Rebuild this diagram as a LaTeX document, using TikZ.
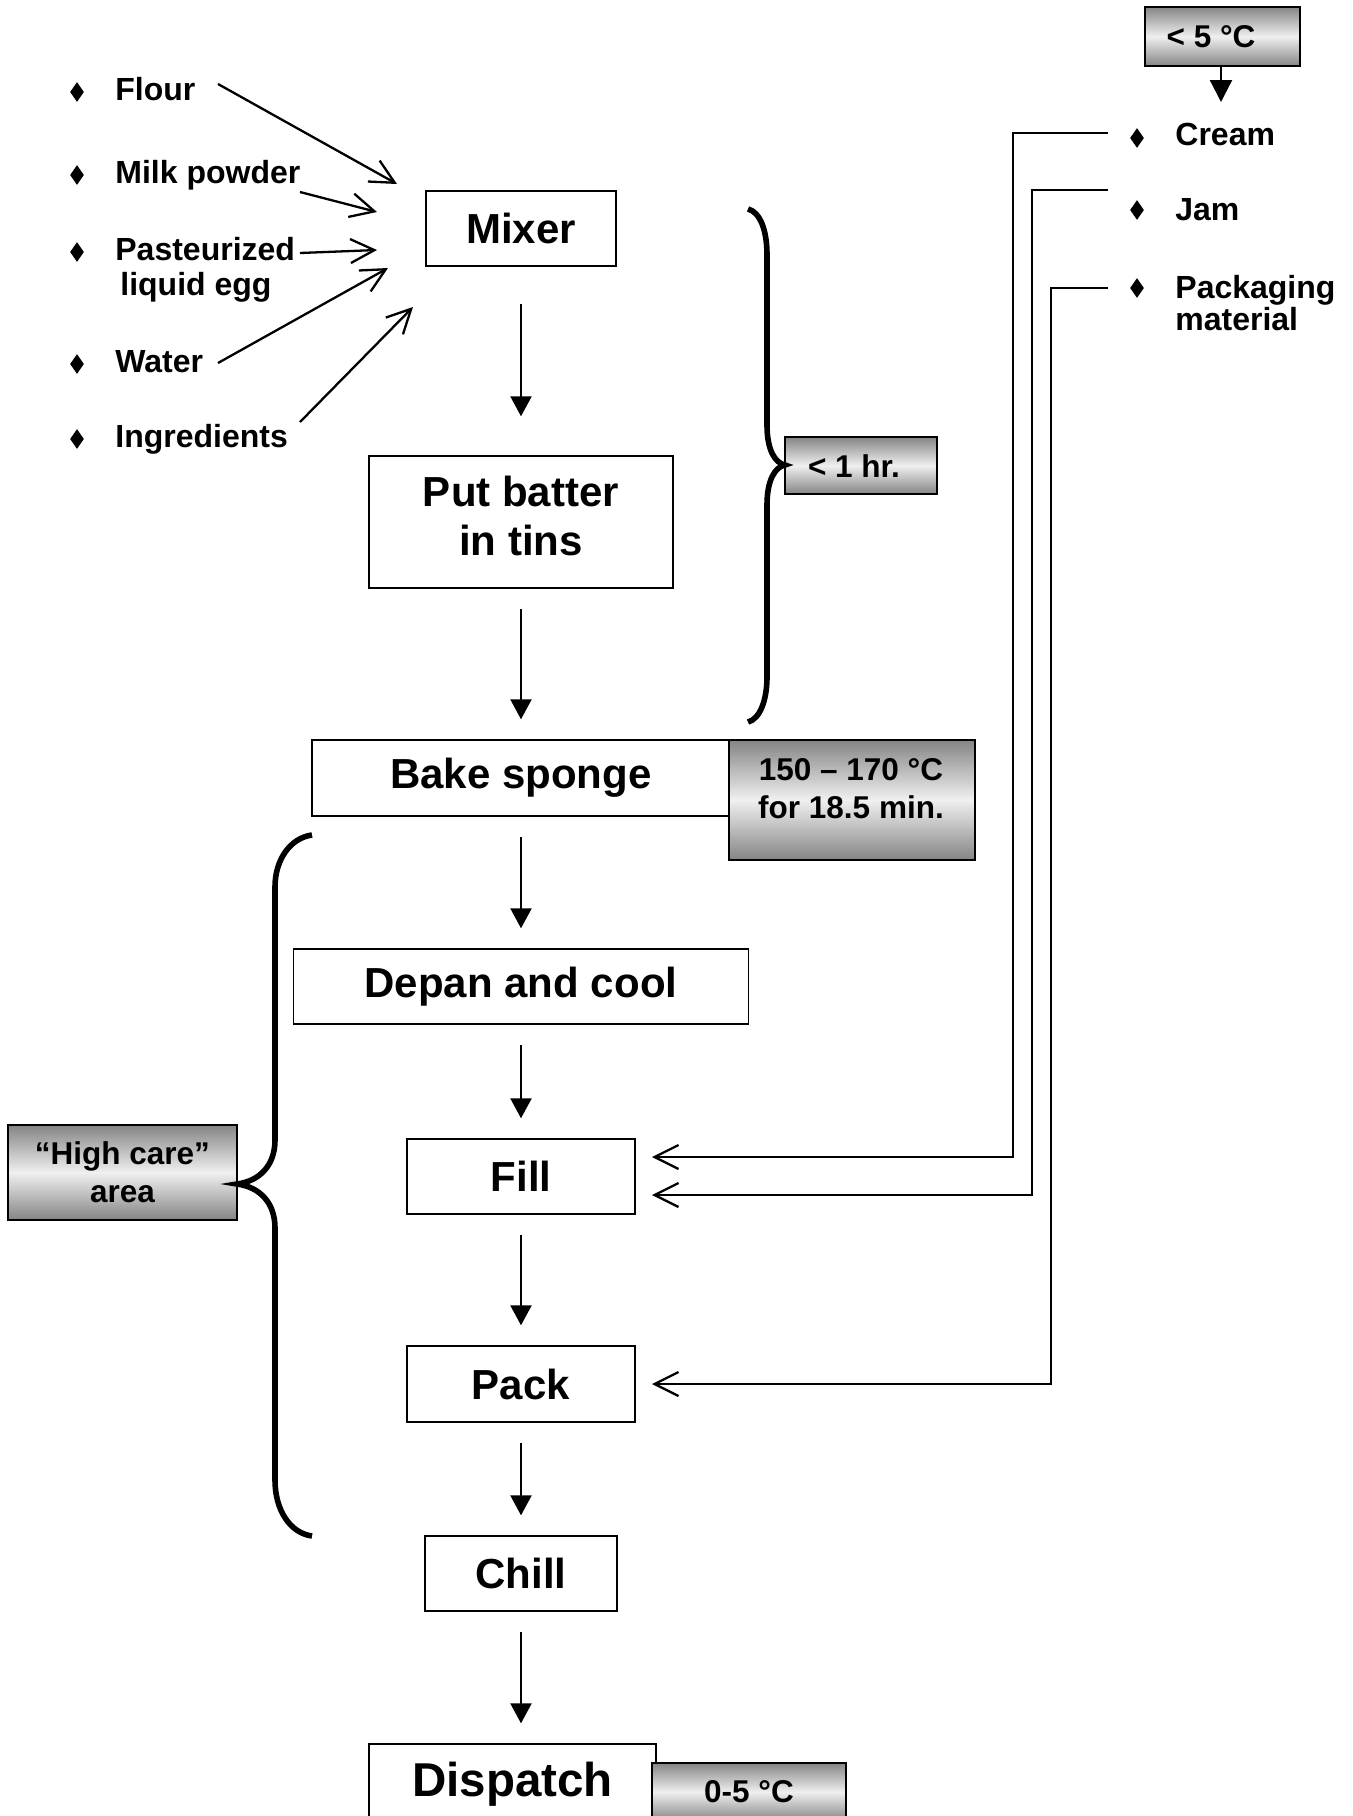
\documentclass[tikz,border=0pt]{standalone}
\usepackage{fontspec}
\setmainfont{Liberation Sans}
\usetikzlibrary{arrows.meta,shapes.geometric}
\newcommand\mainfnt{\fontsize{21}{24.5}\selectfont\bfseries}
\newcommand\dispfnt{\fontsize{23.75}{28}\selectfont\bfseries}
\newcommand\itemfnt{\fontsize{16}{18.5}\selectfont\bfseries}
\newcommand\tagfnt{\fontsize{15.75}{19}\selectfont\bfseries}
\begin{document}
\begin{tikzpicture}[x=0.5pt,y=-0.5pt,
  stepbox/.style={draw, line width=0.7pt, fill=white, inner sep=0pt, align=center, font=\mainfnt},
  tagbox/.style={draw, line width=0.8pt, top color=black!48, bottom color=black!48, middle color=black!6, inner sep=0pt, align=center, font=\tagfnt},
  flow/.style={line width=1.15pt, -{Triangle[width=10.5pt,length=10pt]}, shorten <=10pt, shorten >=10pt},
  feed/.style={line width=1.15pt, line join=miter, -{Straight Barb[width=12pt,length=12pt]}},
  brace/.style={line width=2.8pt},
  item/.style={anchor=base west, inner sep=0pt, font=\itemfnt},
  dot/.style={diamond, fill=black, inner sep=0pt, minimum width=7pt, minimum height=10pt}
]
\useasboundingbox (0,0) rectangle (1353,1816);
\clip (0,0) rectangle (1353,1816);
\fill[white] (0,0) rectangle (1353,1816);

% main process boxes
\node[stepbox, minimum width=95pt, minimum height=37.5pt] (mixer) at (521,228.5) {Mixer};
\node[stepbox, minimum width=152pt, minimum height=66pt] (batter) at (521,522) {};
\node[font=\mainfnt, align=center, inner sep=0pt] (battertxt) at (521,516) {Put batter\\in tins};
\node[stepbox, minimum width=209pt, minimum height=38pt] (bake) at (521,778) {Bake sponge};
\node[tagbox, minimum width=123pt, minimum height=60pt] (baketag) at (852,800) {};
\node[font=\tagfnt, align=center, inner sep=0pt] (baketagtxt) at (851,789) {150 – 170 °C\\for 18.5 min.};
\node[stepbox, minimum width=227.5pt, minimum height=37.5pt] (depan) at (521,986.5) {Depan and cool};
\node[stepbox, minimum width=114pt, minimum height=37.5pt] (fill) at (521,1176.5) {Fill};
\node[stepbox, minimum width=114pt, minimum height=38pt] (pack) at (521,1384) {Pack};
\node[stepbox, minimum width=96pt, minimum height=37.5pt] (chill) at (521,1573.5) {Chill};
\node[stepbox, minimum width=143.5pt, minimum height=40pt, font=\dispfnt] (dispatch) at (512.5,1784) {Dispatch};
\node[tagbox, minimum width=97pt, minimum height=29pt] (disptag) at (749,1792) {0-5 °C};

% tags
\node[tagbox, minimum width=76pt, minimum height=28.5pt] (hr) at (861,465.5) {};
\node[font=\tagfnt, inner sep=0pt] (hrtxt) at (854,466) {< 1 hr.};
\node[tagbox, minimum width=77.5pt, minimum height=29.5pt] (cold) at (1222.5,36.5) {};
\node[font=\tagfnt, inner sep=0pt] (coldtxt) at (1211,37) {< 5 °C};
\node[tagbox, minimum width=114.5pt, minimum height=47.5pt] (care) at (122.5,1172.5) {“High care”\\area};

% flow arrows
\draw[flow, shorten <=18.5pt, shorten >=19.5pt] (mixer.south) -- (mixer.south |- batter.north);
\draw[flow] (batter.south) -- (batter.south |- bake.north);
\draw[flow] (bake.south) -- (bake.south |- depan.north);
\draw[flow] (depan.south) -- (depan.south |- fill.north);
\draw[flow] (fill.south) -- (fill.south |- pack.north);
\draw[flow] (pack.south) -- (pack.south |- chill.north);
\draw[flow] (chill.south) -- (chill.south |- dispatch.north);

% left ingredients
\node[dot] (dflour) at (77,92) {};
\node[item] (flour) at (115,100) {Flour};
\node[dot] (dmilk) at (77,175) {};
\node[item] (milk) at (115,183) {Milk powder};
\node[dot] (degg) at (77,252) {};
\node[item] (egg) at (115,260) {Pasteurized};
\node[item] (egg2) at (120,295) {liquid egg};
\node[dot] (dwater) at (77,364) {};
\node[item] (water) at (115,372) {Water};
\node[dot] (dingr) at (77,439) {};
\node[item] (ingr) at (115,447) {Ingredients};

\coordinate (fa) at (218,84);  \coordinate (fb) at (397,184);
\coordinate (ma) at (300,192); \coordinate (mb) at (377,212);
\coordinate (pa) at (300,253); \coordinate (pb) at (377,250);
\coordinate (wa) at (218,363); \coordinate (wb) at (388,268);
\coordinate (ia) at (300,422); \coordinate (ib) at (413,307);
\draw[feed] (fa) -- (fb);
\draw[feed] (ma) -- (mb);
\draw[feed] (pa) -- (pb);
\draw[feed] (wa) -- (wb);
\draw[feed] (ia) -- (ib);

% right ingredients
\node[dot] (dcream) at (1137,138) {};
\node[item] (cream) at (1175,145) {Cream};
\node[dot] (djam) at (1137,210) {};
\node[item] (jam) at (1175,220) {Jam};
\node[dot] (dpkg) at (1137,288) {};
\node[item] (pkg) at (1175,298) {Packaging};
\node[item] (pkg2) at (1175,330) {material};

\draw[line width=1.15pt, -{Triangle[width=11pt,length=11pt]}] (cold.south -| 1221,0) -- (1221,102);

\coordinate (cs) at (1108,133); \coordinate (ce) at (652,1157);
\coordinate (js) at (1108,190); \coordinate (je) at (652,1195);
\coordinate (ps) at (1108,288); \coordinate (pe) at (652,1384);
\draw[feed] (cs) -| (1013,1157) -- (ce);
\draw[feed] (js) -| (1032,1195) -- (je);
\draw[feed] (ps) -| (1051,1384) -- (pe);

% braces
\draw[brace] (748,209) .. controls (760,212) and (767,230) .. (767,255)
  -- (767,425) .. controls (767,450) and (775,463) .. (785,465)
  .. controls (775,467) and (767,480) .. (767,505)
  -- (767,677) .. controls (767,700) and (760,719) .. (748,722);
\draw[brace] (312,835) .. controls (290,838) and (275,860) .. (275,887)
  -- (275,1140) .. controls (275,1165) and (260,1181) .. (237,1184)
  .. controls (260,1187) and (275,1203) .. (275,1228)
  -- (275,1480) .. controls (275,1510) and (290,1533) .. (312,1536);
\end{tikzpicture}
\end{document}
